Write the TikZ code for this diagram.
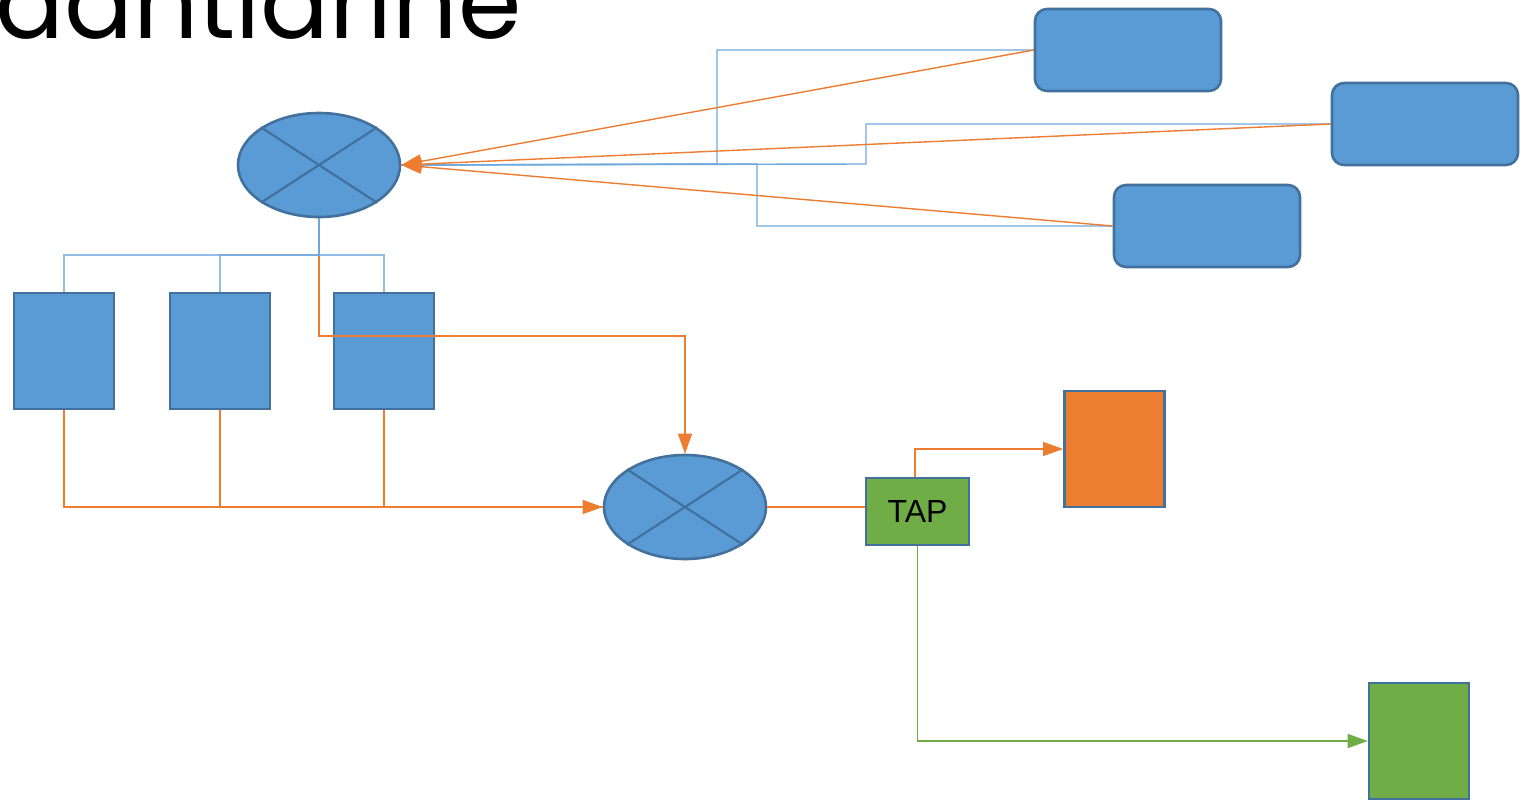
\documentclass[tikz,border=0pt]{standalone}
\usepackage{fontspec}
\setmainfont{Liberation Sans}
\newfontfamily\titlefont{Poppins}
\usetikzlibrary{arrows.meta,shapes.geometric,calc}
\definecolor{fillblue}{HTML}{5B9BD5}
\definecolor{edgeblue}{HTML}{41719C}
\definecolor{lineblue}{HTML}{6FA8DC}
\definecolor{orangec}{HTML}{ED7D31}
\definecolor{greenc}{HTML}{70AD47}
\tikzset{
  nodebase/.style={draw=edgeblue, line width=1.3pt, inner sep=0pt},
  mixer/.style={nodebase, ellipse, fill=fillblue, minimum width=81pt, minimum height=52pt},
  srcbox/.style={nodebase, rectangle, fill=fillblue, minimum width=50pt, minimum height=58pt},
  rbox/.style={nodebase, rectangle, rounded corners=6pt, fill=fillblue, minimum width=93pt, minimum height=41pt},
  tapbox/.style={nodebase, rectangle, fill=greenc, minimum width=51.5pt, minimum height=33.5pt, font=\fontsize{16}{18}\selectfont},
  sinkbox/.style={nodebase, rectangle, minimum width=50pt, minimum height=58pt},
  bline/.style={draw=lineblue, line width=0.7pt},
  oline/.style={draw=orangec, line width=0.7pt},
  gline/.style={draw=greenc, line width=0.7pt},
  tip/.style={-{Triangle[length=10pt,width=7pt]}},
  xline/.style={draw=edgeblue, line width=1.1pt}
}
\begin{document}
\begin{tikzpicture}[x=0.5pt,y=-0.5pt]
\useasboundingbox (0,0) rectangle (1526,799);
\clip (0,0) rectangle (1526,799);
\fill[white] (0,0) rectangle (1526,799);
% title (cut off at top)
\node[anchor=base west, inner sep=0pt, font=\titlefont\fontsize{51}{56}\selectfont] (title) at (-5,38) {aantlarine};
% nodes
\node[mixer] (E1) at (319,165) {};
\node[mixer] (E2) at (685,507) {};
\node[srcbox] (R1) at (64,351) {};
\node[srcbox] (R2) at (220,351) {};
\node[srcbox] (R3) at (384,351) {};
\node[rbox] (B1) at (1128,50) {};
\node[rbox] (B2) at (1425,124) {};
\node[rbox] (B3) at (1207,226) {};
\node[tapbox] (TAP) at (917.5,511.5) {TAP};
\node[sinkbox, fill=orangec] (OR) at (1114.5,449) {};
\node[sinkbox, fill=greenc] (GR) at (1419,741) {};
% crosses in mixers
\foreach \e in {E1,E2}{
  \draw[xline] (\e.147) -- (\e.-33);
  \draw[xline] (\e.33) -- (\e.213);
}
% junction coordinates
\coordinate (j1) at (717,164);
\coordinate (j2) at (866,164);
\coordinate (j3) at (757,164);
\coordinate (bj) at (319,255);
\coordinate (oj) at (500,336);
% blue feeds into E1
\draw[bline] (B1.west) -| (j1) -- (E1.east);
\draw[bline] (B2.west) -| (j2) -- (E1.east);
\draw[bline] (B3.west) -| (j3) -- (E1.east);
% orange feeds into E1
\draw[oline,tip] (B1.west) -- (E1.east);
\draw[oline,tip] (B2.west) -- (E1.east);
\draw[oline,tip] (B3.west) -- (E1.east);
% E1 to E2
\draw[oline,tip] (E1.south) |- (oj) -| (E2.north);
% E1 to sources (blue)
\draw[bline, draw opacity=0.75] (E1.south) -- (bj) -| (R1.north);
\draw[bline, draw opacity=0.75] (E1.south) -- (bj) -| (R2.north);
\draw[bline, draw opacity=0.75] (E1.south) -- (bj) -| (R3.north);
% sources to E2
\draw[oline] (R1.south) |- (E2.west);
\draw[oline] (R2.south) |- (E2.west);
\draw[oline,tip] (R3.south) |- (E2.west);
% E2 to TAP
\draw[oline] (E2.east) -- (E2.east -| TAP.west);
% TAP outputs
\draw[oline,tip] ([xshift=-1.25pt]TAP.north) |- (OR.west);
\draw[gline,tip] (TAP.south) |- (GR.west);
\end{tikzpicture}
\end{document}
